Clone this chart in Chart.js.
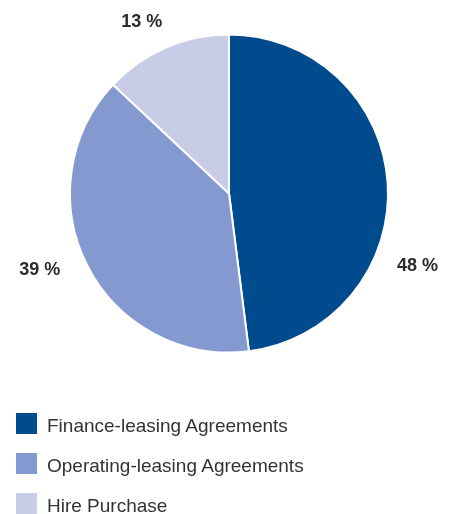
<!DOCTYPE html>
<html>
<head>
<meta charset="utf-8">
<script src="https://cdn.jsdelivr.net/npm/chart.js@4/dist/chart.umd.min.js"></script>
<style>
  html, body { margin: 0; padding: 0; background: #fff; }
  #wrap { position: relative; width: 452px; height: 514px; overflow: hidden; }
  #legend { position: absolute; left: 16px; top: 413px; font-family: "Liberation Sans", Arial, sans-serif; font-size: 19px; color: #333; }
  .item { display: flex; align-items: center; height: 21px; margin-bottom: 19px; }
  .item span { position: relative; top: 2px; }
  .box { width: 21px; height: 21px; margin-right: 10px; }
</style>
</head>
<body>
<div id="wrap">
  <canvas id="pieChart" width="452" height="514"></canvas>
  <div id="legend"></div>
</div>
<script>
// Data
var categories = ["Finance-leasing Agreements", "Operating-leasing Agreements", "Hire Purchase"];
var shares = [48, 39, 13];
var colours = ["#004a8e", "#8399cf", "#c8cde7"];

// Label placement: angle (deg, 0 = 3 o'clock) and distance from pie centre
var labelAngle = [21, 158, 243];
var labelDist = [202, 204, 192];

// Percent labels drawn outside the pie
var outsideLabels = {
  id: 'outsideLabels',
  afterDraw: function(chart) {
    var ctx = chart.ctx;
    var arcs = chart.getDatasetMeta(0).data;
    ctx.save();
    ctx.font = "bold 18px 'Liberation Sans', Arial, sans-serif";
    ctx.fillStyle = "#2b2b2b";
    ctx.textAlign = "center";
    ctx.textBaseline = "middle";
    for (var i = 0; i < arcs.length; i++) {
      var a = labelAngle[i] * Math.PI / 180;
      var x = arcs[i].x + Math.cos(a) * labelDist[i];
      var y = arcs[i].y + Math.sin(a) * labelDist[i];
      ctx.fillText(shares[i] + " %", x, y);
    }
    ctx.restore();
  }
};

var ctxP = document.getElementById("pieChart").getContext('2d');
var myPieChart = new Chart(ctxP, {
  type: 'pie',
  data: {
    labels: categories,
    datasets: [{
      data: shares,
      backgroundColor: colours,
      borderColor: "#ffffff",
      borderWidth: 2
    }]
  },
  options: {
    responsive: false,
    animation: false,
    layout: { padding: { left: 69, right: 63, top: 33, bottom: 160 } },
    plugins: {
      legend: { display: false },
      tooltip: { enabled: false }
    }
  },
  plugins: [outsideLabels]
});

// Legend
var legend = document.getElementById("legend");
for (var i = 0; i < categories.length; i++) {
  var item = document.createElement("div");
  item.className = "item";
  var box = document.createElement("div");
  box.className = "box";
  box.style.background = colours[i];
  var txt = document.createElement("span");
  txt.textContent = categories[i];
  item.appendChild(box);
  item.appendChild(txt);
  legend.appendChild(item);
}
</script>
</body>
</html>
